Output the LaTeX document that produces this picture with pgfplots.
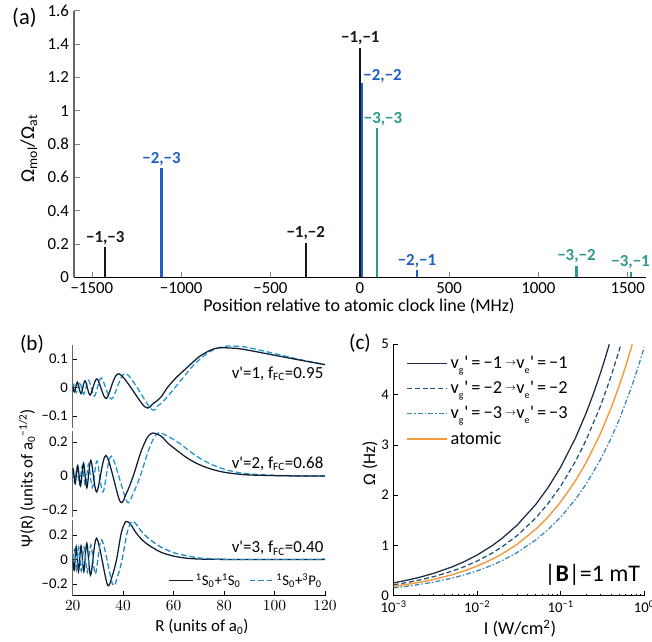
\documentclass[border=0pt]{standalone}
\usepackage{fontspec}
\setmainfont{Carlito}
\usepackage{pgfplots}
\pgfplotsset{compat=1.18}

\definecolor{ink}{HTML}{111820}
\definecolor{vblue}{HTML}{1F5FC4}
\definecolor{vteal}{HTML}{2A9A8E}
\definecolor{wnavy}{HTML}{0F1F33}
\definecolor{wdash}{HTML}{1C95D3}
\definecolor{wdashb}{HTML}{1E86BE}
\definecolor{cnavy}{HTML}{1B2D44}
\definecolor{cdash}{HTML}{23547E}
\definecolor{cdot}{HTML}{3A86B6}
\definecolor{corange}{HTML}{F39A3C}

\newcommand{\vp}[1]{v\rlap{\raisebox{-0.5ex}{\scriptsize #1}}\hspace{0.3em}\textquotesingle}
\newcommand{\arr}{\,\raisebox{0.35ex}{\scriptsize$\rightarrow$}}

\pgfplotsset{
  panel/.style={
    scale only axis, anchor=north west,
    axis lines=left, axis line style={-,black},
    tick align=inside, major tick length=3pt, minor tick length=1.5pt,
    tick style={black,line width=0.4pt},
    every tick label/.style={font=\fontsize{10.5}{12}\selectfont,text=black},
  },
  wave/.style={
    panel, width=6.3075cm, xmin=20, xmax=120,
    y axis line style={gray!80!black,line width=1pt},
  },
}

\begin{document}
\begin{tikzpicture}
\path[use as bounding box] (0,0) rectangle (16.3,-16.05);

% (a) relative strengths of the molecular lines
\begin{axis}[panel, at={(1.85cm,-0.267cm)}, width=14.29cm, height=6.665cm,
  xmin=-1600, xmax=1600, ymin=0, ymax=1.6, clip=false,
  xtick={-1500,-1000,-500,0,500,1000,1500},
  xticklabels={−1500,−1000,−500,0,500,1000,1500},
  ytick={0,0.2,0.4,0.6,0.8,1,1.2,1.4,1.6},
  yticklabels={0,0.2,0.4,0.6,0.8,1,1.2,1.4,1.6},
  every tick label/.style={font=\fontsize{12}{14}\selectfont,text=black},
  tick style={gray}, major tick length=4pt,
  y axis line style={gray!80!black,line width=1pt}]
  \addplot[ycomb, ink, line width=1.5pt, no marks]
    coordinates {(-1425,0.18) (-303,0.208) (3,1.378)};
  \addplot[ycomb, vblue, line width=1.5pt, no marks]
    coordinates {(-1110,0.654) (13,1.164) (320,0.044)};
  \addplot[ycomb, vteal, line width=1.5pt, no marks]
    coordinates {(95,0.896) (1213,0.07) (1516,0.034)};
  \begin{scope}[every node/.style={font=\fontsize{12}{14}\selectfont\bfseries, inner sep=1.5pt}]
    \node[anchor=south, ink] at (axis cs:-1425,0.18) {−1,−3};
    \node[anchor=south, ink] at (axis cs:-303,0.208) {−1,−2};
    \node[anchor=south, ink] at (axis cs:3,1.378) {−1,−1};
    \node[anchor=south, vblue] at (axis cs:-1110,0.654) {−2,−3};
    \node[anchor=south west, vblue, inner sep=0.5pt] at (axis cs:15,1.164) {−2,−2};
    \node[anchor=south, vblue] at (axis cs:320,0.044) {−2,−1};
    \node[anchor=south, vteal] at (axis cs:130,0.896) {−3,−3};
    \node[anchor=south, vteal] at (axis cs:1213,0.07) {−3,−2};
    \node[anchor=south, vteal] at (axis cs:1516,0.034) {−3,−1};
  \end{scope}
\end{axis}

% (b) wavefunctions, v'=1
\begin{axis}[wave, at={(1.8175cm,-8.625cm)}, height=2.0825cm,
  ymin=-0.143, ymax=0.15, axis x line=none,
  ytick={-0.1,0,0.1}, yticklabels={−0.1,0,0.1}]
  \addplot[wdash, line width=0.9pt, dash pattern=on 4pt off 2pt, smooth] coordinates {
    (20,0.0) (20.4,0.012) (21.5,-0.017) (22.8,0.02) (24.4,-0.023) (26.3,0.026)
    (28.6,-0.03) (31.3,0.034) (35.4,-0.04) (41,0.05) (51,-0.074) (54,-0.062)
    (57,-0.038) (60.5,0.0) (64,0.038) (68,0.08) (72,0.112) (76,0.134) (81,0.146)
    (86,0.145) (90,0.14) (100,0.12) (110,0.099) (120,0.081)};
  \addplot[wnavy, line width=0.9pt, smooth] coordinates {
    (20,0.004) (20.7,-0.015) (21.85,0.019) (23.3,-0.021) (24.9,0.024) (26.9,-0.026)
    (29.6,0.031) (33.3,-0.038) (38.3,0.049) (48.5,-0.067) (52,-0.055) (55,-0.033)
    (57.5,0.0) (61,0.035) (65,0.068) (70,0.108) (74.4,0.131) (78,0.14) (85,0.138)
    (90,0.131) (100,0.114) (110,0.097) (120,0.081)};
  \node[anchor=south east, inner sep=1pt, font=\fontsize{12}{14}\selectfont]
    at (axis cs:120,0.018) {v\textquotesingle=1, f\textsubscript{FC}=0.95};
\end{axis}

% (b) v'=2
\begin{axis}[wave, at={(1.8175cm,-10.775cm)}, height=2.1425cm,
  ymin=-0.24, ymax=0.265, axis x line=none,
  ytick={-0.2,0,0.2}, yticklabels={−0.2,0,0.2}]
  \addplot[wdash, line width=0.9pt, dash pattern=on 4pt off 2pt, smooth] coordinates {
    (20,0.02) (20.8,-0.04) (21.7,0.05) (22.7,-0.05) (23.8,0.06) (25.0,-0.058)
    (26.3,0.07) (27.8,-0.068) (29.6,0.088) (32.0,-0.094) (35.3,0.117) (41.4,-0.148)
    (43.9,-0.105) (46.8,0.0) (49.8,0.14) (52.2,0.225) (54.2,0.255) (58,0.232)
    (62.6,0.19) (66,0.15) (70,0.108) (75,0.068) (80,0.04) (85,0.022) (90,0.012)
    (100,0.004) (110,0.001) (120,0.0)};
  \addplot[wnavy, line width=0.9pt, smooth] coordinates {
    (20,0.01) (20.25,0.04) (21.0,-0.045) (22.0,0.062) (23.1,-0.058) (24.3,0.075)
    (25.6,-0.07) (27.2,0.092) (29.5,-0.094) (33.2,0.121) (38.7,-0.148) (41.2,-0.105)
    (44,0.0) (47,0.14) (49.5,0.225) (51.6,0.253) (55,0.235) (58,0.19) (62.6,0.136)
    (66,0.1) (70,0.068) (75,0.04) (80,0.022) (85,0.012) (90,0.006) (100,0.002)
    (110,0.0) (120,0.0)};
  \node[anchor=south east, inner sep=1pt, font=\fontsize{12}{14}\selectfont]
    at (axis cs:120,0.02) {v\textquotesingle=2, f\textsubscript{FC}=0.68};
\end{axis}

% (b) v'=3
\begin{axis}[wave, at={(1.8175cm,-13.0cm)}, height=1.8925cm,
  ymin=-0.297, ymax=0.322,
  xtick={20,40,60,80,100,120},
  ytick={-0.2,0,0.2}, yticklabels={−0.2,0,0.2},
  legend columns=2,
  legend style={at={(rel axis cs:1,0.2)}, anchor=east, draw=none, fill=none,
    font=\fontsize{10.5}{12}\selectfont, inner sep=0pt,
    /tikz/every even column/.append style={column sep=4pt}},
  legend image code/.code={\draw[#1] (0cm,0cm) -- (0.58cm,0cm);}]
  \addplot[wnavy, line width=0.9pt, smooth] coordinates {
    (20,0.02) (20.6,-0.09) (21.4,0.104) (22.3,-0.1) (23.3,0.11) (24.4,-0.1)
    (25.6,0.132) (27.1,-0.129) (29.5,0.173) (33.7,-0.203) (35.6,-0.14) (37.4,0.0)
    (39.3,0.22) (41.1,0.31) (43,0.285) (45,0.22) (47.5,0.16) (50,0.118) (55,0.058)
    (60,0.027) (65,0.01) (70,0.003) (80,0.0) (120,0.0)};
  \addplot[wdashb, line width=0.9pt, dash pattern=on 4pt off 2pt, smooth] coordinates {
    (20,0.0) (20.7,0.08) (21.5,-0.09) (22.4,0.1) (23.4,-0.095) (24.5,0.1)
    (25.8,-0.105) (27.2,0.12) (29.0,-0.12) (31.5,0.16) (35.8,-0.203) (37.8,-0.14)
    (39.6,0.0) (41.6,0.22) (43.4,0.31) (45.3,0.285) (47.3,0.227) (50,0.173)
    (55,0.1) (60,0.055) (65,0.03) (70,0.012) (75,0.004) (80,0.0) (120,0.0)};
  \legend{\textsuperscript{1}S\textsubscript{0}+\textsuperscript{1}S\textsubscript{0},
          \textsuperscript{1}S\textsubscript{0}+\textsuperscript{3}P\textsubscript{0}}
  \node[anchor=south east, inner sep=1pt, font=\fontsize{12}{14}\selectfont]
    at (axis cs:120,0.02) {v\textquotesingle=3, f\textsubscript{FC}=0.40};
\end{axis}

% (c) Rabi frequency vs intensity
\begin{axis}[panel, at={(9.8425cm,-8.6075cm)}, width=6.265cm, height=6.285cm,
  xmode=log, xmin=1e-3, xmax=1, ymin=0, ymax=5,
  xtick={0.001,0.01,0.1,1},
  xticklabels={10\textsuperscript{−3},10\textsuperscript{−2},10\textsuperscript{−1},10\textsuperscript{0}},
  ytick={0,1,2,3,4,5}, yticklabels={0,1,2,3,4,5},
  legend style={at={(0.033,0.975)}, anchor=north west, draw=none, fill=none,
    font=\fontsize{13}{15}\selectfont, row sep=3.5pt},
  legend cell align=left,
  legend image code/.code={\draw[#1] (0cm,0cm) -- (1.0cm,0cm);}]
  \addplot[cnavy, line width=0.9pt] coordinates {
    (0.001,0.256) (0.0015,0.314) (0.002,0.362) (0.003,0.444) (0.005,0.573)
    (0.007,0.678) (0.01,0.810) (0.015,0.992) (0.02,1.146) (0.03,1.403) (0.05,1.811)
    (0.07,2.143) (0.1,2.561) (0.15,3.137) (0.2,3.622) (0.25,4.05) (0.3,4.437)
    (0.35,4.792) (0.381,5.0)};
  \addplot[cdash, line width=0.9pt, dash pattern=on 3.5pt off 2pt] coordinates {
    (0.001,0.218) (0.0015,0.267) (0.002,0.309) (0.003,0.378) (0.005,0.488)
    (0.007,0.577) (0.01,0.690) (0.015,0.845) (0.02,0.976) (0.03,1.195) (0.05,1.543)
    (0.07,1.826) (0.1,2.182) (0.15,2.672) (0.2,3.086) (0.3,3.779) (0.4,4.364)
    (0.5,4.879) (0.525,5.0)};
  \addplot[cdot, line width=0.9pt, dash pattern=on 3.5pt off 1.5pt on 1pt off 1.5pt] coordinates {
    (0.001,0.157) (0.0015,0.192) (0.002,0.221) (0.003,0.271) (0.005,0.350)
    (0.007,0.414) (0.01,0.495) (0.015,0.606) (0.02,0.700) (0.03,0.857) (0.05,1.107)
    (0.07,1.310) (0.1,1.565) (0.15,1.917) (0.2,2.214) (0.3,2.711) (0.4,3.131)
    (0.5,3.500) (0.7,4.141) (0.85,4.564) (1.0,4.95)};
  \addplot[corange, line width=1pt] coordinates {
    (0.001,0.187) (0.0015,0.229) (0.002,0.264) (0.003,0.323) (0.005,0.417)
    (0.007,0.494) (0.01,0.590) (0.015,0.723) (0.02,0.834) (0.03,1.022) (0.05,1.319)
    (0.07,1.561) (0.1,1.866) (0.15,2.285) (0.2,2.639) (0.3,3.232) (0.4,3.732)
    (0.5,4.172) (0.6,4.570) (0.718,5.0)};
  \legend{\vp{g}\,=\,−1\arr\vp{e}\,=\,−1,
          \vp{g}\,=\,−2\arr\vp{e}\,=\,−2,
          \vp{g}\,=\,−3\arr\vp{e}\,=\,−3,
          atomic}
  \node[anchor=south east, inner sep=1pt, font=\fontsize{17}{19}\selectfont]
    at (rel axis cs:0.99,0.035) {|\textbf{B}|=1 mT};
\end{axis}

% panel letters and axis titles
\node[font=\fontsize{16}{18}\selectfont] at (0.61,-0.44) {(a)};
\node[font=\fontsize{14}{16}\selectfont, rotate=90] at (0.72,-3.71)
  {Ω\textsubscript{mol}/Ω\textsubscript{at}};
\node[font=\fontsize{12.8}{15}\selectfont] at (8.975,-7.65)
  {Position relative to atomic clock line (MHz)};
\node[font=\fontsize{15}{17}\selectfont] at (0.8,-8.6) {(b)};
\node[font=\fontsize{12}{14}\selectfont, rotate=90] at (0.675,-11.95)
  {Ψ(R) (units of a\textsubscript{0}\textsuperscript{−1/2})};
\node[font=\fontsize{12}{14}\selectfont] at (5.05,-15.675) {R (units of a\textsubscript{0})};
\node[font=\fontsize{15}{17}\selectfont] at (9.0,-8.575) {(c)};
\node[font=\fontsize{12.5}{14}\selectfont, rotate=90] at (9.25,-11.575) {Ω (Hz)};
\node[font=\fontsize{13}{15}\selectfont] at (13.0,-15.725) {I (W/cm\textsuperscript{2})};
\end{tikzpicture}
\end{document}
